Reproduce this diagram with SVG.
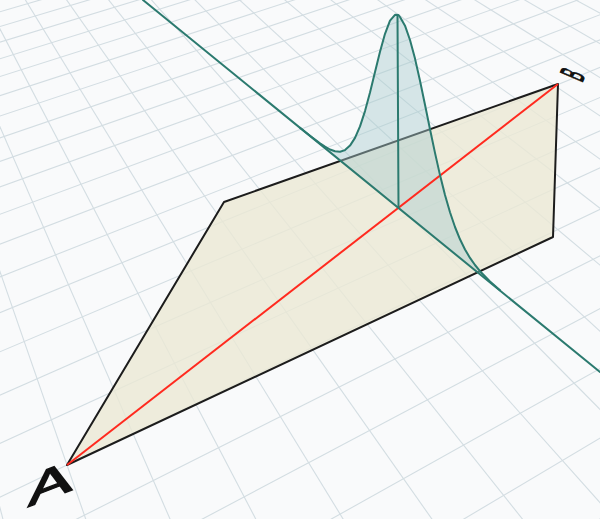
<svg xmlns="http://www.w3.org/2000/svg" width="600" height="519" viewBox="0 0 600 519">
<style>
.g{stroke:#d3dde2;stroke-width:1.1;fill:none}
.edge{stroke:#1c1c1c;stroke-width:2;fill:#ebe8d4;fill-opacity:0.8;stroke-linejoin:round}
.teal{stroke:#2b7a6f;stroke-width:2;fill:none;stroke-linejoin:round;stroke-linecap:round}
.lbl{font-family:"Liberation Sans",Arial,sans-serif;fill:#111;stroke:#111}
</style>
<rect width="600" height="519" fill="#f9fafb"/>
<g id="grid">
<g id="grid-d">
<line class="g" x1="-250" y1="-450" x2="245" y2="1446.6"/>
<line class="g" x1="-250" y1="-450" x2="384" y2="1380"/>
<line class="g" x1="-250" y1="-450" x2="515.8" y2="1316.8"/>
<line class="g" x1="-250" y1="-450" x2="640.8" y2="1256.8"/>
<line class="g" x1="-250" y1="-450" x2="759.8" y2="1199.8"/>
<line class="g" x1="-250" y1="-450" x2="872.8" y2="1145.6"/>
<line class="g" x1="-250" y1="-450" x2="980.6" y2="1093.8"/>
<line class="g" x1="-250" y1="-450" x2="1083.4" y2="1044.4"/>
<line class="g" x1="-250" y1="-450" x2="1181.6" y2="997.4"/>
<line class="g" x1="-250" y1="-450" x2="1275.8" y2="952.4"/>
<line class="g" x1="-250" y1="-450" x2="1365.6" y2="909.2"/>
<line class="g" x1="-250" y1="-450" x2="1451.6" y2="867.8"/>
<line class="g" x1="-250" y1="-450" x2="1534" y2="828.4"/>
<line class="g" x1="-250" y1="-450" x2="1613.2" y2="790.4"/>
<line class="g" x1="-250" y1="-450" x2="1689.4" y2="753.8"/>
<line class="g" x1="-250" y1="-450" x2="1762.4" y2="718.8"/>
<line class="g" x1="-250" y1="-450" x2="1832.8" y2="685"/>
</g>
<g id="grid-u">
<line class="g" x1="-2243.2" y1="2323" x2="2600" y2="-750"/>
<line class="g" x1="-2299.4" y1="2160.6" x2="2600" y2="-750"/>
<line class="g" x1="-2348.8" y1="2018.2" x2="2600" y2="-750"/>
<line class="g" x1="-2392.4" y1="1892.4" x2="2600" y2="-750"/>
<line class="g" x1="-2431.2" y1="1780.4" x2="2600" y2="-750"/>
<line class="g" x1="-2466" y1="1680" x2="2600" y2="-750"/>
<line class="g" x1="-2497.4" y1="1589.6" x2="2600" y2="-750"/>
<line class="g" x1="-2525.8" y1="1507.6" x2="2600" y2="-750"/>
<line class="g" x1="-2551.6" y1="1433" x2="2600" y2="-750"/>
<line class="g" x1="-2575.2" y1="1365" x2="2600" y2="-750"/>
<line class="g" x1="-2596.8" y1="1302.4" x2="2600" y2="-750"/>
<line class="g" x1="-2616.8" y1="1244.8" x2="2600" y2="-750"/>
<line class="g" x1="-2635.2" y1="1191.6" x2="2600" y2="-750"/>
<line class="g" x1="-2652.2" y1="1142.4" x2="2600" y2="-750"/>
<line class="g" x1="-2668.2" y1="1096.6" x2="2600" y2="-750"/>
<line class="g" x1="-2682.8" y1="1054" x2="2600" y2="-750"/>
<line class="g" x1="-2696.6" y1="1014.2" x2="2600" y2="-750"/>
<line class="g" x1="-2709.6" y1="976.8" x2="2600" y2="-750"/>
<line class="g" x1="-2721.8" y1="941.8" x2="2600" y2="-750"/>
<line class="g" x1="-2733.2" y1="909" x2="2600" y2="-750"/>
<line class="g" x1="-2743.8" y1="878" x2="2600" y2="-750"/>
<line class="g" x1="-2754" y1="849" x2="2600" y2="-750"/>
<line class="g" x1="-2763.4" y1="821.4" x2="2600" y2="-750"/>
</g>
</g>
<g id="plane">
<polygon class="edge" points="67,465 224,202 558,84 553,237"/>
</g>
<g id="gaussian">
<path d="M300,127.8 L310,135.7 L320,143.4 L325,146.7 L330,149.5 L335,151.3 L340,151.7 L345,150.1 L350,145.6 L355,137.9 L360,126.4 L365,111.1 L370,92.5 L375,72.1 L380,51.8 L385,33.8 L390,20.7 L395,14.8 L398.5,15 L400,17 L405,25.7 L410,40 L415,58.6 L420,80.7 L425,104.7 L430,129.2 L435,152.9 L440,175.1 L445,195 L450,212.3 L455,227 L460,239.3 L465,249.5 L470,257.9 L475,265 L480,271.2 L490,281.4 L500,290.3 Z" fill="#a9cdcf" fill-opacity="0.45" stroke="none"/>
</g>
<g id="connectors">
<line id="red-line" x1="67" y1="465" x2="558" y2="84" stroke="#ff2a1f" stroke-width="2"/>
<line id="teal-line" class="teal" x1="143" y1="0" x2="600" y2="372"/>
<line id="gauss-axis" class="teal" x1="398.5" y1="207.5" x2="397.5" y2="15.5"/>
<path id="gauss-curve" class="teal" d="M300,127.8 L310,135.7 L320,143.4 L325,146.7 L330,149.5 L335,151.3 L340,151.7 L345,150.1 L350,145.6 L355,137.9 L360,126.4 L365,111.1 L370,92.5 L375,72.1 L380,51.8 L385,33.8 L390,20.7 L395,14.8 L398.5,15 L400,17 L405,25.7 L410,40 L415,58.6 L420,80.7 L425,104.7 L430,129.2 L435,152.9 L440,175.1 L445,195 L450,212.3 L455,227 L460,239.3 L465,249.5 L470,257.9 L475,265 L480,271.2 L490,281.4 L500,290.3"/>
</g>
<g id="label-A">
<text class="lbl" font-size="40" stroke-width="1.3" transform="matrix(1.648,-0.637,-0.003,1.1,28,507)">A</text>
</g>
<g id="label-B">
<text class="lbl" font-size="16" stroke-width="0.6" transform="matrix(0.3,-0.69,2.007,0.873,582,83)">B</text>
</g>
</svg>
